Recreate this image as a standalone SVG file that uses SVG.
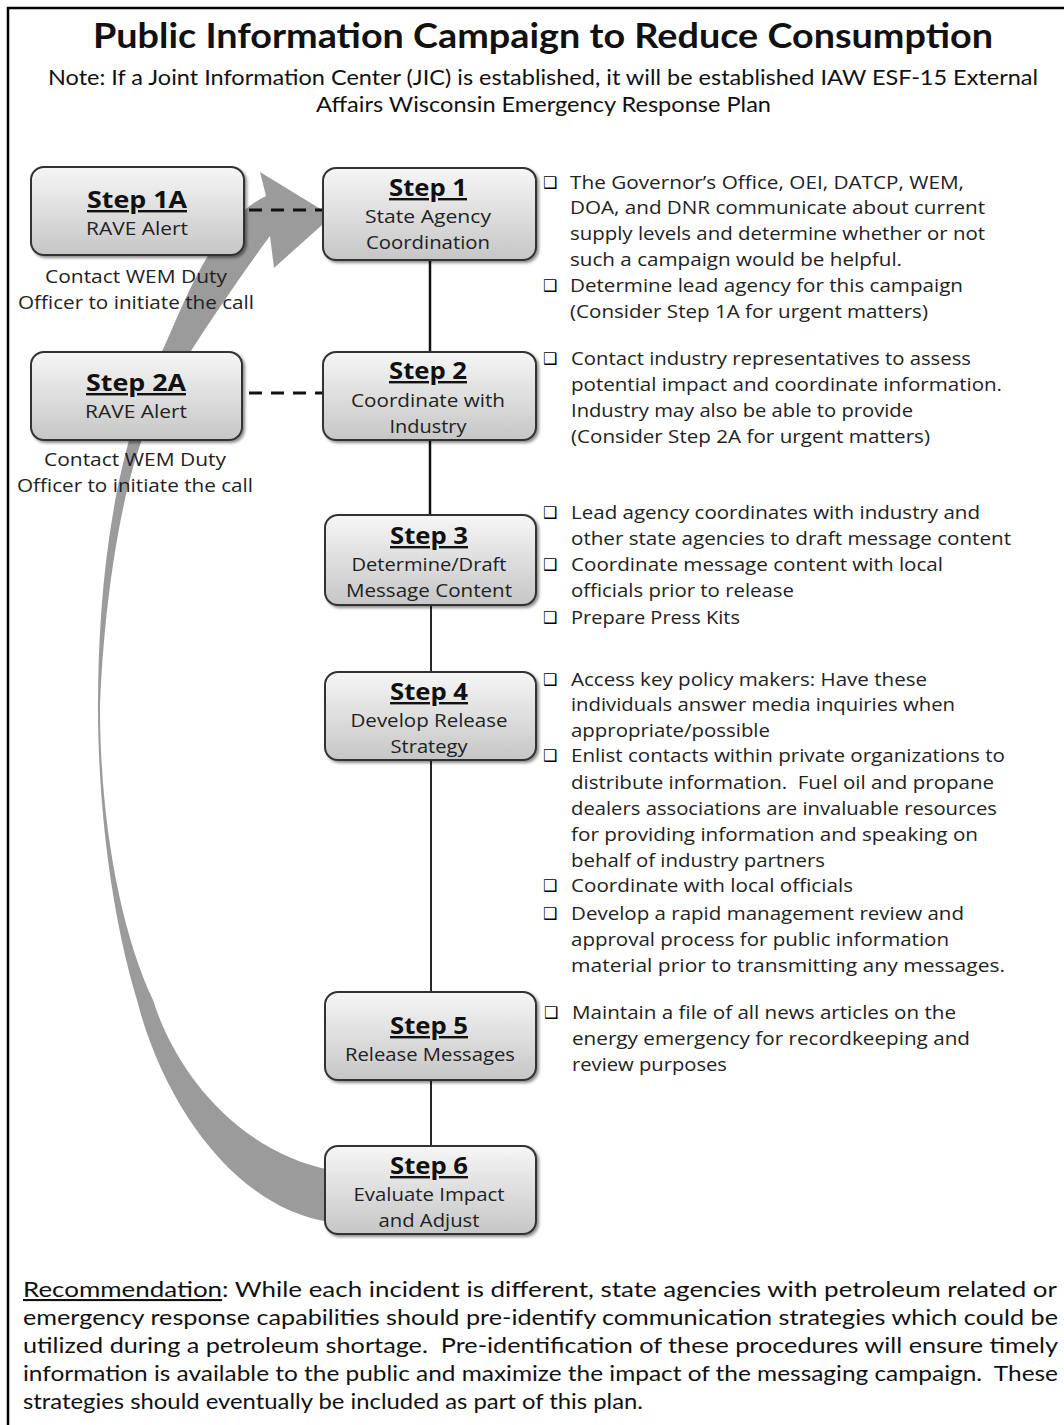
<svg xmlns="http://www.w3.org/2000/svg" width="1064" height="1425" viewBox="0 0 1064 1425">
  <defs>
    <linearGradient id="boxFill" x1="0" y1="0" x2="0" y2="1">
      <stop offset="0" stop-color="#f6f6f6"/>
      <stop offset="1" stop-color="#c6c6c6"/>
    </linearGradient>
    <filter id="shadow" x="-10%" y="-10%" width="125%" height="130%">
      <feDropShadow dx="2" dy="2" stdDeviation="1.5" flood-color="#000" flood-opacity="0.45"/>
    </filter>
    <style>
      .box { fill: url(#boxFill); stroke: #333; stroke-width: 2; filter: url(#shadow); }
      .head { font-family: "Open Sans", "Noto Sans", sans-serif; font-weight: 700; font-size: 24px; fill: #111; text-anchor: middle; text-decoration: underline; }
      .lbl { font-family: "Open Sans", "Noto Sans", sans-serif; font-size: 19px; fill: #222; text-anchor: middle; }
      .note { font-family: Lato, "Liberation Sans", sans-serif; font-size: 21px; fill: #111; }
      .item { font-family: "Open Sans", "Noto Sans", sans-serif; font-size: 18.5px; fill: #222; }
      .chk { font-family: "DejaVu Sans", sans-serif; font-weight: 700; font-size: 16px; fill: #000; }
      .link { stroke: #111; fill: none; }
      .dash { stroke: #111; stroke-width: 3; stroke-dasharray: 13 9; fill: none; }
    </style>
  </defs>

  <rect x="0" y="0" width="1064" height="1425" fill="#fff"/>
  <rect x="8" y="8" width="1080" height="1440" fill="#fff" stroke="#000" stroke-width="2.5"/>

  <!-- title and note -->
  <g id="title">
    <text x="543" y="48" text-anchor="middle" textLength="900" lengthAdjust="spacingAndGlyphs" style="font-family: Lato, 'Liberation Sans', sans-serif; font-weight: 700; font-size: 34px; fill: #111;">Public Information Campaign to Reduce Consumption</text>
    <text class="note" x="48" y="85" textLength="990" lengthAdjust="spacingAndGlyphs">Note: If a Joint Information Center (JIC) is established, it will be established IAW ESF-15 External</text>
    <text class="note" x="316" y="112" textLength="455" lengthAdjust="spacingAndGlyphs">Affairs Wisconsin Emergency Response Plan</text>
  </g>

  <!-- feedback arrow from Step 6 back to Step 1 -->
  <g id="feedback-arrow">
    <path fill="#9b9b9b" d="M 332 216 L 274 268 L 270 236
      C 245 270 185 355 150 420
      C 122 480 104 600 100 707
      C 100 820 120 930 153 1000
      C 175 1070 235 1150 330 1170
      L 330 1222
      C 240 1210 165 1110 137 1000
      C 110 910 98 800 98 707
      C 98 590 112 450 165 345
      C 185 300 215 220 266 196
      L 260 172 Z"/>
  </g>

  <!-- connectors -->
  <g id="connectors">
    <line class="link" x1="430" y1="260" x2="430" y2="352" stroke-width="2.5"/>
    <line class="link" x1="430" y1="440" x2="430" y2="515" stroke-width="2.5"/>
    <line class="link" x1="431" y1="605" x2="431" y2="672" stroke-width="1.8"/>
    <line class="link" x1="431" y1="760" x2="431" y2="992" stroke-width="1.8"/>
    <line class="link" x1="431" y1="1080" x2="431" y2="1146" stroke-width="1.8"/>
    <line class="dash" x1="249" y1="210" x2="323" y2="210"/>
    <line class="dash" x1="249" y1="393" x2="323" y2="393"/>
  </g>

  <!-- alert side steps -->
  <g id="step1a">
    <rect class="box" x="31" y="167" width="213" height="88" rx="13"/>
    <text class="head" x="137" y="208" textLength="100" lengthAdjust="spacingAndGlyphs">Step 1A</text>
    <text class="lbl" x="137" y="235" textLength="102" lengthAdjust="spacingAndGlyphs">RAVE Alert</text>
    <text class="lbl" x="136" y="283" textLength="182" lengthAdjust="spacingAndGlyphs">Contact WEM Duty</text>
    <text class="lbl" x="136" y="309" textLength="236" lengthAdjust="spacingAndGlyphs">Officer to initiate the call</text>
  </g>
  <g id="step2a">
    <rect class="box" x="31" y="352" width="211" height="88" rx="13"/>
    <text class="head" x="136" y="391" textLength="100" lengthAdjust="spacingAndGlyphs">Step 2A</text>
    <text class="lbl" x="136" y="418" textLength="102" lengthAdjust="spacingAndGlyphs">RAVE Alert</text>
    <text class="lbl" x="135" y="466" textLength="182" lengthAdjust="spacingAndGlyphs">Contact WEM Duty</text>
    <text class="lbl" x="135" y="492" textLength="236" lengthAdjust="spacingAndGlyphs">Officer to initiate the call</text>
  </g>

  <!-- main steps -->
  <g id="step1">
    <rect class="box" x="323" y="168" width="213" height="92" rx="13"/>
    <text class="head" x="428" y="196" textLength="78" lengthAdjust="spacingAndGlyphs">Step 1</text>
    <text class="lbl" x="428" y="223" textLength="126" lengthAdjust="spacingAndGlyphs">State Agency</text>
    <text class="lbl" x="428" y="249" textLength="124" lengthAdjust="spacingAndGlyphs">Coordination</text>
  </g>
  <g id="step2">
    <rect class="box" x="323" y="352" width="213" height="88" rx="13"/>
    <text class="head" x="428" y="379" textLength="78" lengthAdjust="spacingAndGlyphs">Step 2</text>
    <text class="lbl" x="428" y="407" textLength="154" lengthAdjust="spacingAndGlyphs">Coordinate with</text>
    <text class="lbl" x="428" y="433" textLength="77" lengthAdjust="spacingAndGlyphs">Industry</text>
  </g>
  <g id="step3">
    <rect class="box" x="325" y="515" width="211" height="90" rx="13"/>
    <text class="head" x="429" y="544" textLength="78" lengthAdjust="spacingAndGlyphs">Step 3</text>
    <text class="lbl" x="429" y="571" textLength="155" lengthAdjust="spacingAndGlyphs">Determine/Draft</text>
    <text class="lbl" x="429" y="597" textLength="166" lengthAdjust="spacingAndGlyphs">Message Content</text>
  </g>
  <g id="step4">
    <rect class="box" x="325" y="672" width="211" height="88" rx="13"/>
    <text class="head" x="429" y="700" textLength="78" lengthAdjust="spacingAndGlyphs">Step 4</text>
    <text class="lbl" x="429" y="727" textLength="157" lengthAdjust="spacingAndGlyphs">Develop Release</text>
    <text class="lbl" x="429" y="753" textLength="77" lengthAdjust="spacingAndGlyphs">Strategy</text>
  </g>
  <g id="step5">
    <rect class="box" x="325" y="992" width="211" height="88" rx="13"/>
    <text class="head" x="429" y="1034" textLength="78" lengthAdjust="spacingAndGlyphs">Step 5</text>
    <text class="lbl" x="430" y="1061" textLength="170" lengthAdjust="spacingAndGlyphs">Release Messages</text>
  </g>
  <g id="step6">
    <rect class="box" x="325" y="1146" width="211" height="88" rx="13"/>
    <text class="head" x="429" y="1174" textLength="78" lengthAdjust="spacingAndGlyphs">Step 6</text>
    <text class="lbl" x="429" y="1201" textLength="151" lengthAdjust="spacingAndGlyphs">Evaluate Impact</text>
    <text class="lbl" x="429" y="1227" textLength="101" lengthAdjust="spacingAndGlyphs">and Adjust</text>
  </g>

  <!-- task checklists -->
  <g id="tasks1">
    <text class="chk" x="543" y="188">❑</text>
    <text class="item" x="570" y="189" textLength="394" lengthAdjust="spacingAndGlyphs">The Governor’s Office, OEI, DATCP, WEM,</text>
    <text class="item" x="570" y="214" textLength="415" lengthAdjust="spacingAndGlyphs">DOA, and DNR communicate about current</text>
    <text class="item" x="570" y="240" textLength="415" lengthAdjust="spacingAndGlyphs">supply levels and determine whether or not</text>
    <text class="item" x="570" y="266" textLength="332" lengthAdjust="spacingAndGlyphs">such a campaign would be helpful.</text>
    <text class="chk" x="543" y="291">❑</text>
    <text class="item" x="570" y="292" textLength="393" lengthAdjust="spacingAndGlyphs">Determine lead agency for this campaign</text>
    <text class="item" x="570" y="318" textLength="358" lengthAdjust="spacingAndGlyphs">(Consider Step 1A for urgent matters)</text>
  </g>
  <g id="tasks2">
    <text class="chk" x="543" y="364">❑</text>
    <text class="item" x="571" y="365" textLength="400" lengthAdjust="spacingAndGlyphs">Contact industry representatives to assess</text>
    <text class="item" x="571" y="391" textLength="431" lengthAdjust="spacingAndGlyphs">potential impact and coordinate information.</text>
    <text class="item" x="571" y="417" textLength="342" lengthAdjust="spacingAndGlyphs">Industry may also be able to provide</text>
    <text class="item" x="571" y="443" textLength="359" lengthAdjust="spacingAndGlyphs">(Consider Step 2A for urgent matters)</text>
  </g>
  <g id="tasks3">
    <text class="chk" x="543" y="518">❑</text>
    <text class="item" x="571" y="519" textLength="409" lengthAdjust="spacingAndGlyphs">Lead agency coordinates with industry and</text>
    <text class="item" x="571" y="545" textLength="440" lengthAdjust="spacingAndGlyphs">other state agencies to draft message content</text>
    <text class="chk" x="543" y="570">❑</text>
    <text class="item" x="571" y="571" textLength="372" lengthAdjust="spacingAndGlyphs">Coordinate message content with local</text>
    <text class="item" x="571" y="597" textLength="223" lengthAdjust="spacingAndGlyphs">officials prior to release</text>
    <text class="chk" x="543" y="623">❑</text>
    <text class="item" x="571" y="624" textLength="169" lengthAdjust="spacingAndGlyphs">Prepare Press Kits</text>
  </g>
  <g id="tasks4">
    <text class="chk" x="543" y="685">❑</text>
    <text class="item" x="571" y="686" textLength="356" lengthAdjust="spacingAndGlyphs">Access key policy makers: Have these</text>
    <text class="item" x="571" y="711" textLength="384" lengthAdjust="spacingAndGlyphs">individuals answer media inquiries when</text>
    <text class="item" x="571" y="737" textLength="199" lengthAdjust="spacingAndGlyphs">appropriate/possible</text>
    <text class="chk" x="543" y="761">❑</text>
    <text class="item" x="571" y="762" textLength="434" lengthAdjust="spacingAndGlyphs">Enlist contacts within private organizations to</text>
    <text class="item" x="571" y="789" textLength="423" lengthAdjust="spacingAndGlyphs" xml:space="preserve">distribute information.  Fuel oil and propane</text>
    <text class="item" x="571" y="815" textLength="426" lengthAdjust="spacingAndGlyphs">dealers associations are invaluable resources</text>
    <text class="item" x="571" y="841" textLength="407" lengthAdjust="spacingAndGlyphs">for providing information and speaking on</text>
    <text class="item" x="571" y="867" textLength="254" lengthAdjust="spacingAndGlyphs">behalf of industry partners</text>
    <text class="chk" x="543" y="891">❑</text>
    <text class="item" x="571" y="892" textLength="282" lengthAdjust="spacingAndGlyphs">Coordinate with local officials</text>
    <text class="chk" x="543" y="919">❑</text>
    <text class="item" x="571" y="920" textLength="393" lengthAdjust="spacingAndGlyphs">Develop a rapid management review and</text>
    <text class="item" x="571" y="946" textLength="378" lengthAdjust="spacingAndGlyphs">approval process for public information</text>
    <text class="item" x="571" y="972" textLength="434" lengthAdjust="spacingAndGlyphs">material prior to transmitting any messages.</text>
  </g>
  <g id="tasks5">
    <text class="chk" x="544" y="1018">❑</text>
    <text class="item" x="572" y="1019" textLength="384" lengthAdjust="spacingAndGlyphs">Maintain a file of all news articles on the</text>
    <text class="item" x="572" y="1045" textLength="398" lengthAdjust="spacingAndGlyphs">energy emergency for recordkeeping and</text>
    <text class="item" x="572" y="1071" textLength="155" lengthAdjust="spacingAndGlyphs">review purposes</text>
  </g>

  <!-- recommendation paragraph -->
  <g id="recommendation">
    <text class="note" x="23" y="1297" textLength="1034" lengthAdjust="spacingAndGlyphs"><tspan text-decoration="underline">Recommendation</tspan>: While each incident is different, state agencies with petroleum related or</text>
    <text class="note" x="23" y="1325" textLength="1035" lengthAdjust="spacingAndGlyphs">emergency response capabilities should pre-identify communication strategies which could be</text>
    <text class="note" x="23" y="1353" textLength="1035" lengthAdjust="spacingAndGlyphs" xml:space="preserve">utilized during a petroleum shortage.  Pre-identification of these procedures will ensure timely</text>
    <text class="note" x="23" y="1381" textLength="1035" lengthAdjust="spacingAndGlyphs" xml:space="preserve">information is available to the public and maximize the impact of the messaging campaign.  These</text>
    <text class="note" x="23" y="1409" textLength="620" lengthAdjust="spacingAndGlyphs">strategies should eventually be included as part of this plan.</text>
  </g>
</svg>
